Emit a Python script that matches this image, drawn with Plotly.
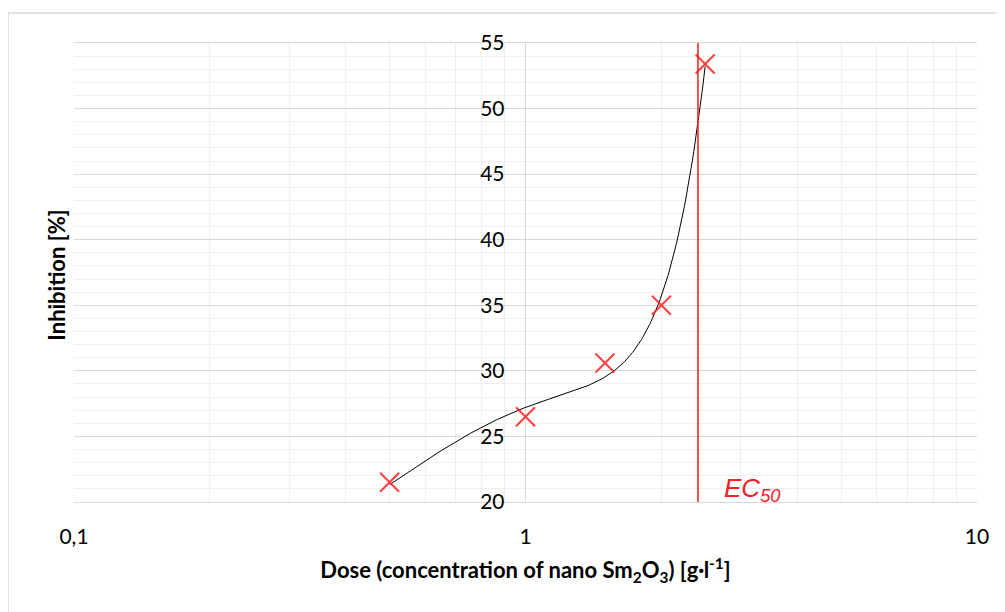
import numpy as np
import plotly.graph_objects as go

# Data
dose = [0.5, 1.0, 1.5, 2.0, 2.5]
inhibition = [21.5, 26.5, 30.6, 35.0, 53.4]
ec50 = 2.41
x_tickvals = [0.1, 1, 10]
x_ticktext = ["0,1", "1", "10"]
y_tickvals = [20, 25, 30, 35, 40, 45, 50, 55]

# Cubic polynomial trendline (as in the spreadsheet)
coef = np.polyfit(dose, inhibition, 3)
xf = np.linspace(min(dose), max(dose), 200)
yf = np.polyval(coef, xf)

fig = go.Figure()
fig.add_trace(go.Scatter(x=xf, y=yf, mode="lines",
                         line=dict(color="black", width=1), hoverinfo="skip"))
fig.add_trace(go.Scatter(x=[ec50, ec50], y=[20, 55], mode="lines",
                         line=dict(color="#ff1a1a", width=1.5)))
fig.add_trace(go.Scatter(x=dose, y=inhibition, mode="markers",
                         marker=dict(symbol="x-thin-open", size=19,
                                     color="rgba(255,30,30,0.85)",
                                     line=dict(color="rgba(255,30,30,0.85)", width=2))))

font_main = "Lato, 'Open Sans', sans-serif"

fig.update_layout(
    width=997, height=604,
    margin=dict(l=66, r=28, t=35, b=110, autoexpand=False),
    paper_bgcolor="white", plot_bgcolor="white",
    showlegend=False,
    font=dict(family=font_main, color="black", size=21),
    xaxis=dict(
        type="log", range=[-1, 1], automargin=False,
        tickvals=x_tickvals, ticktext=x_ticktext,
        showgrid=True, gridcolor="#d9d9d9", gridwidth=1.3,
        minor=dict(showgrid=True, gridcolor="#efefef", gridwidth=1.3,
                   tickvals=[0.2, 0.3, 0.4, 0.5, 0.6, 0.7, 0.8, 0.9,
                             2, 3, 4, 5, 6, 7, 8, 9]),
        showline=True, linecolor="#d9d9d9", linewidth=1.3, mirror=True,
        ticks="", ticklabelstandoff=16, zeroline=False,
        title=dict(text="<b>Dose (concentration of nano Sm<sub>2</sub>O<sub>3</sub>) [g·l<sup>-1</sup>]</b>",
                   font=dict(size=22), standoff=15),
        tickfont=dict(size=21),
    ),
    yaxis=dict(
        range=[20, 55], tickvals=y_tickvals, automargin=False,
        anchor="free", position=0.5,
        showgrid=True, gridcolor="#d9d9d9", gridwidth=1.3,
        minor=dict(showgrid=True, gridcolor="#efefef", gridwidth=1.3, dtick=1),
        showline=False, ticks="", ticklabelstandoff=21, zeroline=False,
        tickfont=dict(size=21),
    ),
    annotations=[
        dict(text="<b>Inhibition [%]</b>", xref="paper", yref="paper",
             x=-0.019, y=0.495, textangle=-90, showarrow=False,
             xanchor="center", yanchor="middle", font=dict(size=22)),
        dict(text="<i>EC<sub>50</sub></i>", x=np.log10(ec50), y=20,
             xref="x", yref="y", xanchor="left", yanchor="bottom",
             xshift=24, yshift=-6, showarrow=False,
             font=dict(family="Liberation Sans, Arial", size=26, color="#ee2228")),
    ],
    shapes=[
        dict(type="rect", xref="paper", yref="paper",
             x0=(8 - 74) / 903, x1=1.2, y0=-0.5, y1=1 + (43 - 13) / 459,
             line=dict(color="#d9d9d9", width=1.5), fillcolor="rgba(0,0,0,0)",
             layer="below"),
    ],
)

fig.write_html("out.html")
